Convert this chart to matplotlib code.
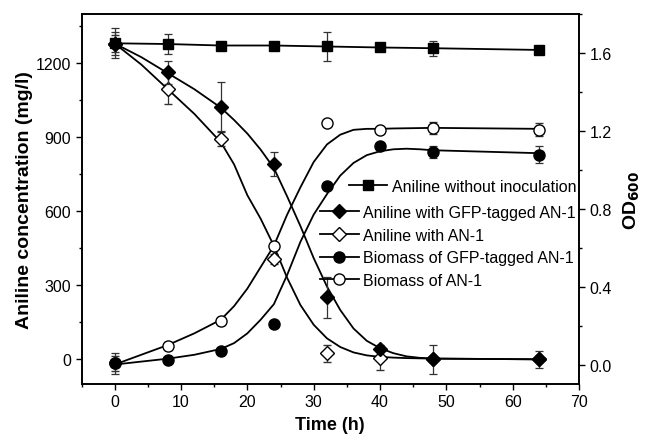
import matplotlib
matplotlib.use('Agg')
import matplotlib.pyplot as plt
from matplotlib.lines import Line2D
from matplotlib.ticker import MultipleLocator

plt.rcParams['font.family'] = ['Liberation Sans', 'DejaVu Sans']

# sampling times (h)
t = [0, 8, 16, 24, 32, 40, 48, 64]

# aniline concentration (mg/l)
aniline_none = [1281, 1278, 1272, 1272, 1268, 1264, 1261, 1254]
aniline_none_err = [60, 40, 0, 0, 60, 0, 30, 0]
aniline_gfp = [1280, 1163, 1024, 792, 251, 42, 0, 0]
aniline_gfp_err = [45, 47, 100, 47, 83, 10, 58, 34]
aniline_an1 = [1280, 1097, 893, 405, 24, 7, 0, 0]
aniline_an1_err = [35, 62, 30, 20, 36, 50, 0, 0]

# biomass (OD600)
bio_gfp = [0.006, 0.023, 0.071, 0.21, 0.918, 1.124, 1.09, 1.078]
bio_gfp_err = [0.054, 0, 0, 0, 0, 0.01, 0.031, 0.045]
bio_an1 = [0.006, 0.097, 0.225, 0.61, 1.24, 1.204, 1.213, 1.206]
bio_an1_err = [0.04, 0.02, 0.02, 0.015, 0, 0.015, 0.03, 0.035]

# fitted curves
fit_t = [0, 4, 8, 12, 16, 18, 20, 22, 24, 26, 28, 30, 32, 34, 36, 38, 40, 42, 44, 46, 48, 64]
fit_aniline_gfp = [1280, 1225, 1160, 1095, 1020, 970, 915, 850, 775, 660, 540, 410, 295, 200, 125, 75, 45, 25, 12, 6, 3, 0]
fit_aniline_an1 = [1280, 1195, 1095, 995, 880, 790, 665, 570, 460, 330, 220, 140, 85, 50, 28, 16, 10, 7, 5, 4, 3, 0]
fit_bio_gfp = [0.0, 0.015, 0.03, 0.05, 0.08, 0.11, 0.16, 0.23, 0.31, 0.46, 0.63, 0.77, 0.875, 0.97, 1.035, 1.075, 1.095, 1.105, 1.108, 1.105, 1.10, 1.085]
fit_bio_an1 = [0.0, 0.05, 0.10, 0.16, 0.23, 0.30, 0.39, 0.50, 0.61, 0.77, 0.91, 1.04, 1.13, 1.18, 1.205, 1.21, 1.21, 1.212, 1.213, 1.214, 1.215, 1.21]

labels = ['Aniline without inoculation', 'Aniline with GFP-tagged AN-1', 'Aniline with AN-1',
          'Biomass of GFP-tagged AN-1', 'Biomass of AN-1']

fig = plt.figure(figsize=(6.47, 4.39), dpi=100)
ax = fig.add_axes([0.126, 0.123, 0.769, 0.843])
ax2 = ax.twinx()

lw = 1.3
ebar = dict(ecolor='#333333', elinewidth=0.9, capsize=3, capthick=0.9, linestyle='none')

# curves
ax.plot(t, aniline_none, color='k', lw=lw, zorder=2)
ax.plot(fit_t, fit_aniline_gfp, color='k', lw=lw, zorder=2)
ax.plot(fit_t, fit_aniline_an1, color='k', lw=lw, zorder=2)
ax2.plot(fit_t, fit_bio_gfp, color='k', lw=lw, zorder=2)
ax2.plot(fit_t, fit_bio_an1, color='k', lw=lw, zorder=2)

# data points with error bars
ax.errorbar(t, aniline_an1, yerr=aniline_an1_err, marker='D', ms=7, mfc='white', mec='k', mew=1, zorder=3, **ebar)
ax.errorbar(t, aniline_gfp, yerr=aniline_gfp_err, marker='D', ms=7, mfc='k', mec='k', zorder=4, **ebar)
ax.errorbar(t, aniline_none, yerr=aniline_none_err, marker='s', ms=7, mfc='k', mec='k', zorder=4, **ebar)
ax2.errorbar(t, bio_an1, yerr=bio_an1_err, marker='o', ms=8, mfc='white', mec='k', mew=1, zorder=3, **ebar)
ax2.errorbar(t, bio_gfp, yerr=bio_gfp_err, marker='o', ms=8, mfc='k', mec='k', zorder=4, **ebar)

ax.set_xlim(-5, 70)
ax.set_ylim(-100, 1400)
ax2.set_ylim(-0.1, 1.8)

ax.xaxis.set_major_locator(MultipleLocator(10))
ax.xaxis.set_minor_locator(MultipleLocator(5))
ax.yaxis.set_major_locator(MultipleLocator(300))
ax.yaxis.set_minor_locator(MultipleLocator(150))
ax2.yaxis.set_major_locator(MultipleLocator(0.4))
ax2.yaxis.set_minor_locator(MultipleLocator(0.2))
ax2.yaxis.set_major_formatter(plt.FormatStrFormatter('%.1f'))

for a in (ax, ax2):
    a.tick_params(which='major', direction='out', length=4, width=1, labelsize=11.5)
    a.tick_params(which='minor', direction='out', length=2.5, width=1)
    for s in a.spines.values():
        s.set_linewidth(1.2)

ax.set_xlabel('Time (h)', fontsize=13, fontweight='bold', labelpad=5)
ax.set_ylabel('Aniline concentration (mg/l)', fontsize=14, fontweight='bold', labelpad=2)
ax2.set_ylabel('OD$_{\\mathbf{600}}$', fontsize=14, fontweight='bold', labelpad=7)

handles = [
    Line2D([], [], color='k', lw=lw, marker='s', ms=7, mfc='k', mec='k'),
    Line2D([], [], color='k', lw=lw, marker='D', ms=7, mfc='k', mec='k'),
    Line2D([], [], color='k', lw=lw, marker='D', ms=7, mfc='white', mec='k'),
    Line2D([], [], color='k', lw=lw, marker='o', ms=8, mfc='k', mec='k'),
    Line2D([], [], color='k', lw=lw, marker='o', ms=8, mfc='white', mec='k'),
]
leg_kw = dict(loc='upper left', frameon=False, fontsize=11.5, handlelength=2.4,
              handletextpad=0.3, labelspacing=0.48, borderaxespad=0)
leg1 = ax2.legend(handles[:1], labels[:1], bbox_to_anchor=(0.525, 0.572), **leg_kw)
ax2.add_artist(leg1)
ax2.legend(handles[1:], labels[1:], bbox_to_anchor=(0.467, 0.501), **leg_kw)

fig.savefig('out.png', dpi=100)
